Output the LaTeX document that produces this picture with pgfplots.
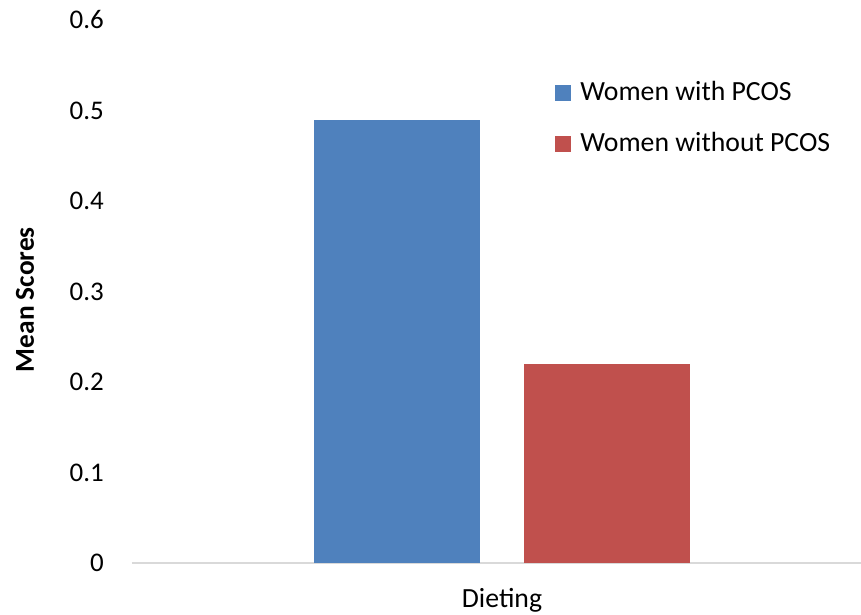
\documentclass[border=0pt]{standalone}
\usepackage{fontspec}
\setmainfont{Carlito}
\usepackage{pgfplots}
\pgfplotsset{compat=1.18}
\definecolor{cblue}{HTML}{4F81BD}
\definecolor{cred}{HTML}{C0504D}
\definecolor{cline}{HTML}{D9D9D9}
\begin{document}
\fontsize{20.5}{24}\selectfont
\begin{tikzpicture}
\begin{axis}[
  name=ax,
  scale only axis, width=546.75pt, height=407.25pt,
  xmin=-370, xmax=359, ymin=0, ymax=0.6,
  ytick={0,0.1,0.2,0.3,0.4,0.5,0.6},
  xtick={0}, xticklabels={Dieting},
  axis x line*=bottom, axis y line*=left,
  y axis line style={draw=none},
  x axis line style={cline, line width=1.5pt, -},
  major tick length=0pt,
  tick label style={font=\fontsize{20.2}{24}\selectfont, text=black},
  /pgf/number format/assume math mode=true,
  /pgf/number format/fixed,
  yticklabel style={anchor=east, inner sep=0pt, xshift=-21pt},
  xticklabel style={anchor=north, inner sep=0pt, yshift=-19pt, font=\fontsize{20.8}{24}\selectfont},
  ylabel={\bfseries Mean Scores},
  ylabel style={at={(rel axis cs:0,0.485)}, anchor=center, yshift=80.25pt, font=\fontsize{20.5}{24}\selectfont},
  ybar, bar width=166,
  legend style={at={(rel axis cs:0.580,0.893)}, anchor=north west, draw=none, fill=none,
    font=\fontsize{20.8}{24}\selectfont, row sep=16.75pt, inner sep=0pt},
  legend cell align=left,
  legend image code/.code={\fill[#1] (0pt,-6pt) rectangle (12pt,6pt); \path (17pt,0pt);},
  clip=false,
]
\addplot[fill=cblue, draw=none, bar shift=-105] coordinates {(0,0.49)};
\addplot[fill=cred, draw=none, bar shift=105] coordinates {(0,0.22)};
\legend{Women with PCOS, Women without PCOS}
\end{axis}
\pgfresetboundingbox
\path[use as bounding box] ([shift={(-99pt,-39pt)}]ax.south west) rectangle ([shift={(0pt,15pt)}]ax.north east);
\end{tikzpicture}
\end{document}
